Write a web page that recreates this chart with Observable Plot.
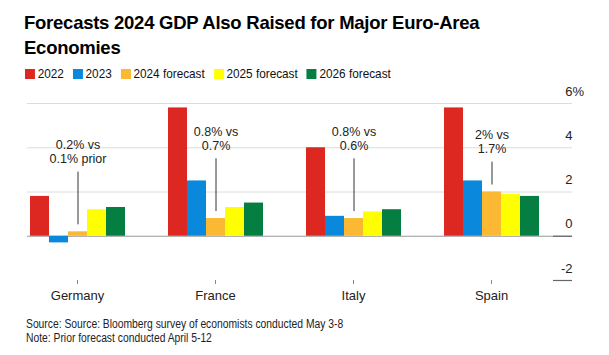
<!DOCTYPE html>
<html><head><meta charset="utf-8">
<script src="https://cdn.jsdelivr.net/npm/d3@7"></script>
<script src="https://cdn.jsdelivr.net/npm/@observablehq/plot@0.6"></script>
<style>
body{margin:0;background:#fff;font-family:"Liberation Sans",Arial,sans-serif;color:#000;}
#wrap{position:relative;width:609px;height:355px;overflow:hidden;background:#fff;}
#title{position:absolute;left:24px;top:10px;font-weight:bold;font-size:18.5px;line-height:25px;letter-spacing:-0.25px;width:520px;color:#000;}
#legend{position:absolute;left:25px;top:67px;font-size:13px;line-height:14px;display:flex;color:#111;transform:scaleX(0.905);transform-origin:0 0;}
#legend .it{display:flex;align-items:center;margin-right:10px;}
#legend .sw{width:11px;height:10px;margin-right:3px;}
#bg,#fg{position:absolute;left:0;top:85px;}
#foot{position:absolute;left:26px;top:317px;font-size:12px;line-height:14px;color:#222;transform:scaleX(0.86);transform-origin:0 0;white-space:nowrap;}
</style></head>
<body><div id="wrap">
<div id="title">Forecasts 2024 GDP Also Raised for Major Euro-Area Economies</div>
<div id="legend"></div>
<div id="bg"></div>
<div id="fg"></div>
<div id="foot">Source: Source: Bloomberg survey of economists conducted May 3-8<br>Note: Prior forecast conducted April 5-12</div>
</div>
<script>
const countries = ["Germany", "France", "Italy", "Spain"];
const series = ["2022", "2023", "2024 forecast", "2025 forecast", "2026 forecast"];
const colors = ["#dc2820", "#0a88dc", "#fbb832", "#ffff00", "#047f41"];
const germany = [1.8, -0.3, 0.2, 1.2, 1.3];
const france = [5.8, 2.5, 0.8, 1.3, 1.5];
const italy = [4.0, 0.9, 0.8, 1.1, 1.2];
const spain = [5.8, 2.5, 2.0, 1.9, 1.8];
const annoLabels = ["0.2% vs\n0.1% prior", "0.8% vs\n0.7%", "0.8% vs\n0.6%", "2% vs\n1.7%"];
const annoTop = [2.9, 3.5, 3.5, 3.35];
const yTicks = [-2, 0, 2, 4, 6];
const gridTicks = [2, 4, 6];

const values = [germany, france, italy, spain];
const rows = countries.flatMap((c, i) => series.map((s, j) => ({country: c, series: s, value: values[i][j]})));
const annos = countries.map((c, i) => ({country: c, label: annoLabels[i], top: annoTop[i], value: values[i][2]}));

// legend
const lg = document.getElementById("legend");
series.forEach((s, i) => {
  const it = document.createElement("div"); it.className = "it";
  it.innerHTML = `<div class="sw" style="background:${colors[i]}"></div><span>${s}</span>`;
  lg.appendChild(it);
});

const common = {
  width: 609, height: 225, marginTop: 18, marginBottom: 30,
  y: {domain: [-2, 6], axis: null},
  style: {fontFamily: "'Liberation Sans', Arial, sans-serif", fontSize: "13px", background: "transparent", color: "#222"}
};

const bg = Plot.plot({
  ...common,
  marginLeft: 27, marginRight: 37,
  marks: [
    Plot.ruleY(gridTicks, {y: d => d, stroke: "#dcdcdc", strokeWidth: 1}),
    Plot.ruleY([0], {y: d => d, stroke: "#999", strokeWidth: 1.2}),
    Plot.ruleY(yTicks.filter(d => d <= 0), {y: d => d, stroke: "#666", strokeWidth: 1.2, insetLeft: 526}),
    Plot.text(yTicks, {y: d => d, text: d => String(d), frameAnchor: "right", textAnchor: "end", dy: -12, fontSize: 13, fill: "#222"}),
    Plot.text(yTicks.filter(d => d === 6), {y: d => d, text: () => "%", frameAnchor: "right", textAnchor: "start", dy: -12, fontSize: 13, fill: "#222"})
  ]
});
document.getElementById("bg").appendChild(bg);

const fg = Plot.plot({
  ...common,
  marginLeft: 27, marginRight: 68,
  fx: {domain: countries, paddingInner: 0.302, paddingOuter: 0},
  x: {domain: series, paddingInner: 0, paddingOuter: 0, axis: null},
  color: {domain: series, range: colors},
  marks: [
    Plot.barY(rows, {fx: "country", x: "series", y: "value", fill: "series"}),
    Plot.ruleX(annos, {fx: "country", x: () => "2024 forecast", y1: "top", y2: "value", insetBottom: 7, stroke: "#333", strokeWidth: 1}),
    Plot.text(annos, {fx: "country", x: () => "2024 forecast", y: "top", text: "label", lineAnchor: "bottom", dy: -9, fontSize: 12.5, lineHeight: 1.1, fill: "#222"}),
    Plot.axisFx({anchor: "bottom", tickSize: 4, tickPadding: 6, label: null, stroke: "#888", fill: "#222", fontSize: 13})
  ]
});
document.getElementById("fg").appendChild(fg);
</script>
</body></html>
